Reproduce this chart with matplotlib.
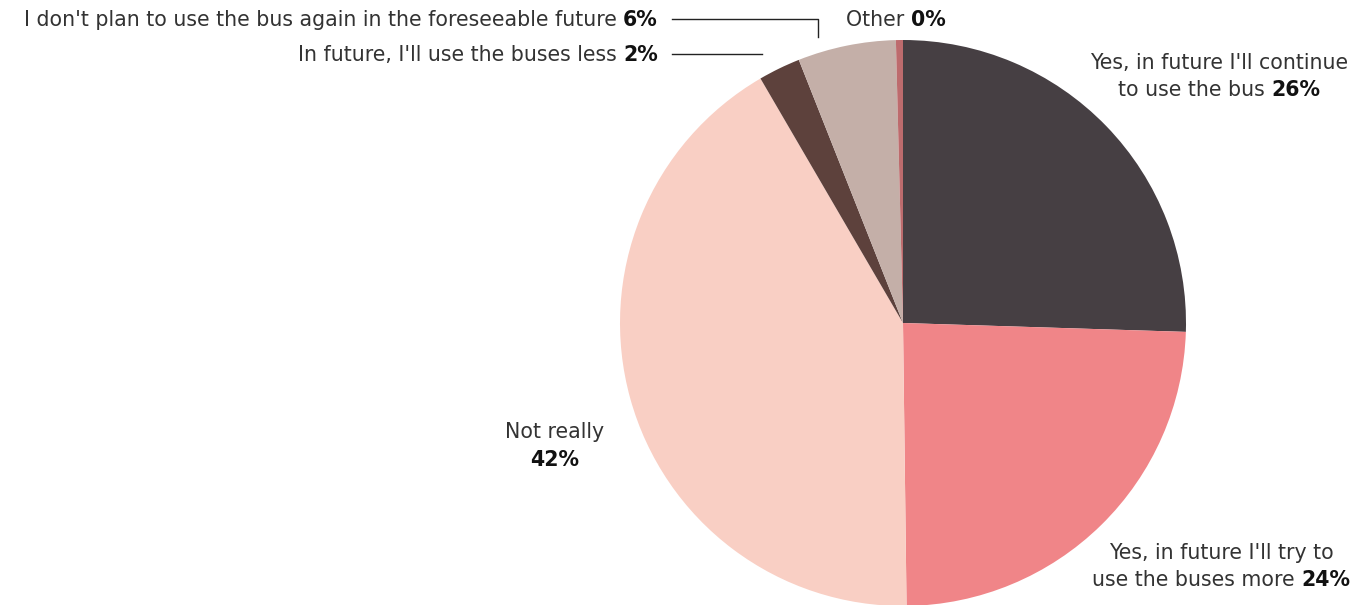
"""Pie chart of future bus-use intentions with rich (normal + bold) labels."""

import matplotlib

matplotlib.use("Agg")
import matplotlib.pyplot as plt

W, H = 1355, 605
DPI = 100

answers = [
    "Yes, in future I'll continue to use the bus",
    "Yes, in future I'll try to use the buses more",
    "Not really",
    "In future, I'll use the buses less",
    "I don't plan to use the bus again in the foreseeable future",
    "Other",
]
shares = [25.5, 24.3, 41.8, 2.4, 5.6, 0.4]
colors = ["#463f43", "#f08588", "#f9cfc4", "#5d413c", "#c4afa8", "#bd6b6d"]

TEXT_COLOR = "#333333"
BOLD_COLOR = "#111111"
FONT = "DejaVu Sans"
FS = 14.8

fig = plt.figure(figsize=(W / DPI, H / DPI), dpi=DPI)
renderer = fig.canvas.get_renderer()

# pie centre and radius in pixels (from top-left)
cx, cy, r = 903, 323, 283
ax = fig.add_axes([(cx - r) / W, (H - cy - r) / H, 2 * r / W, 2 * r / H])
ax.pie(shares, colors=colors, startangle=90, counterclock=False,
       wedgeprops=dict(linewidth=0), radius=1.0)
ax.set_xlim(-1, 1)
ax.set_ylim(-1, 1)
ax.set_aspect("auto")
ax.axis("off")
for p in ax.patches:
    p.set_clip_on(False)


def pct(i):
    return f"{shares[i]:.0f}%"


def rich_line(x, y, parts, ha="left"):
    """Draw one line built from (text, bold) parts; x, y in pixels from top-left."""
    texts = []
    for s, bold in parts:
        t = fig.text(0, 0, s, fontsize=FS, family=FONT,
                     fontweight="bold" if bold else "normal",
                     color=BOLD_COLOR if bold else TEXT_COLOR,
                     va="center", ha="left")
        texts.append(t)
    widths = [t.get_window_extent(renderer).width for t in texts]
    total = sum(widths)
    if ha == "right":
        x0 = x - total
    elif ha == "center":
        x0 = x - total / 2
    else:
        x0 = x
    for t, w in zip(texts, widths):
        t.set_position((x0 / W, 1 - y / H))
        x0 += w


# right-hand labels (centred blocks)
rich_line(1219, 63, [("Yes, in future I'll continue", False)], ha="center")
rich_line(1219, 90, [("to use the bus ", False), (pct(0), True)], ha="center")
rich_line(1221, 553, [("Yes, in future I'll try to", False)], ha="center")
rich_line(1221, 580, [("use the buses more ", False), (pct(1), True)], ha="center")

rich_line(555, 432, [("Not really", False)], ha="center")
rich_line(555, 460, [(pct(2), True)], ha="center")

rich_line(658, 20, [(answers[4] + " ", False), (pct(4), True)], ha="right")
rich_line(658, 55, [(answers[3] + " ", False), (pct(3), True)], ha="right")
rich_line(896, 20, [("Other ", False), (pct(5), True)], ha="center")

# leader lines
def px_line(xs, ys):
    fig.add_artist(plt.Line2D([x / W for x in xs], [1 - y / H for y in ys],
                              color="#222222", lw=1.0))


px_line([672, 818, 818], [19, 19, 37])
px_line([672, 762], [54, 54])

fig.savefig("out.png", dpi=DPI)
